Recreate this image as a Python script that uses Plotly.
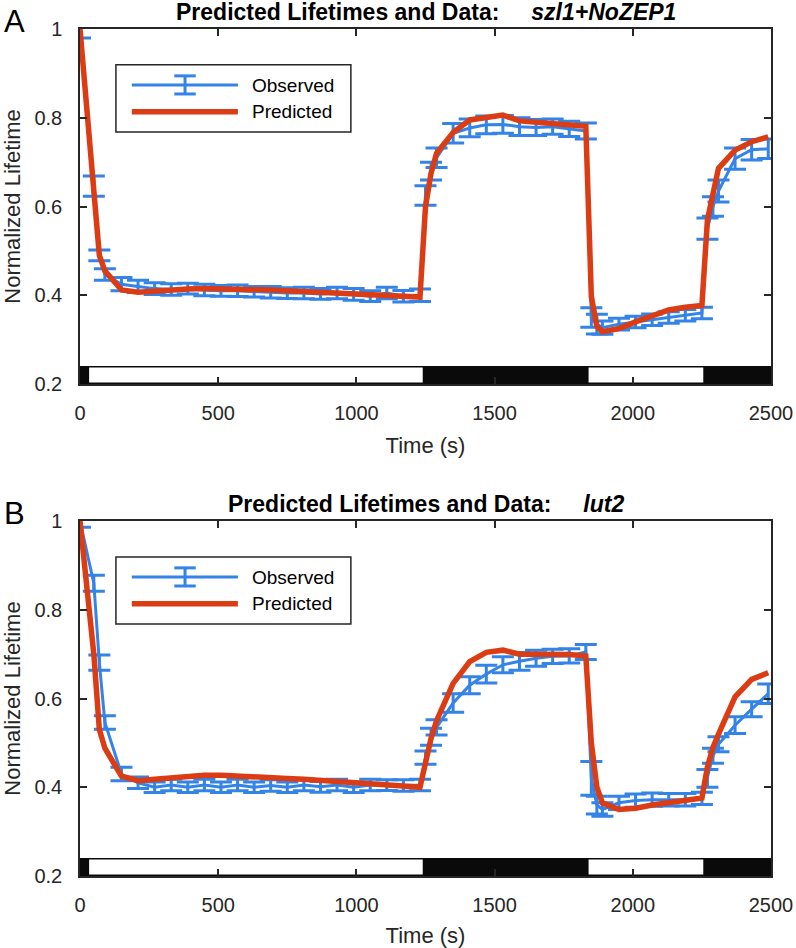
import plotly.graph_objects as go

# sample times (s), shared by observed and predicted series
times = [0, 50, 70, 90, 150, 210, 270, 330, 390, 450, 510, 570, 630, 690, 750,
         810, 870, 930, 990, 1050, 1110, 1170, 1230, 1250, 1270, 1290, 1350,
         1410, 1470, 1530, 1590, 1650, 1710, 1770, 1830, 1850, 1870, 1890,
         1950, 2010, 2070, 2130, 2190, 2250, 2270, 2290, 2310, 2370, 2430, 2490]

# panel A: szl1+NoZEP1
obs_a = [1.00, 0.646, 0.49, 0.447, 0.425, 0.42, 0.415, 0.413, 0.415, 0.412, 0.41,
         0.41, 0.408, 0.407, 0.405, 0.405, 0.403, 0.405, 0.402, 0.398, 0.405, 0.398,
         0.40, 0.625, 0.68, 0.71, 0.765, 0.777, 0.784, 0.785, 0.78, 0.778, 0.78,
         0.775, 0.77, 0.35, 0.335, 0.327, 0.335, 0.34, 0.345, 0.35, 0.355, 0.36,
         0.55, 0.60, 0.635, 0.708, 0.728, 0.73]
err_a = [0.02, 0.023, 0.012, 0.013, 0.015, 0.014, 0.013, 0.013, 0.012, 0.013, 0.012,
         0.013, 0.012, 0.013, 0.012, 0.013, 0.012, 0.013, 0.013, 0.012, 0.013, 0.013,
         0.014, 0.022, 0.02, 0.022, 0.022, 0.02, 0.02, 0.02, 0.02, 0.018, 0.017,
         0.017, 0.018, 0.022, 0.022, 0.015, 0.013, 0.013, 0.013, 0.013, 0.013, 0.013,
         0.024, 0.022, 0.025, 0.024, 0.023, 0.022]
pred_a = [1.0, 0.62, 0.49, 0.455, 0.412, 0.407, 0.41, 0.413, 0.414, 0.415, 0.415,
          0.414, 0.413, 0.412, 0.41, 0.408, 0.406, 0.404, 0.402, 0.40, 0.399, 0.398,
          0.396, 0.60, 0.675, 0.72, 0.767, 0.795, 0.802, 0.806, 0.793, 0.79, 0.788,
          0.786, 0.781, 0.397, 0.33, 0.318, 0.325, 0.34, 0.355, 0.367, 0.373, 0.377,
          0.57, 0.63, 0.686, 0.727, 0.746, 0.757]

# panel B: lut2
obs_b = [1.00, 0.86, 0.681, 0.546, 0.43, 0.41, 0.40, 0.405, 0.40, 0.405, 0.40,
         0.405, 0.40, 0.404, 0.40, 0.405, 0.401, 0.405, 0.40, 0.405, 0.405, 0.404,
         0.405, 0.467, 0.514, 0.535, 0.59, 0.63, 0.655, 0.676, 0.684, 0.691, 0.695,
         0.696, 0.705, 0.42, 0.36, 0.35, 0.365, 0.37, 0.372, 0.372, 0.372, 0.375,
         0.42, 0.471, 0.497, 0.54, 0.576, 0.611]
err_b = [0.014, 0.018, 0.017, 0.015, 0.015, 0.013, 0.012, 0.013, 0.012, 0.013, 0.012,
         0.013, 0.012, 0.013, 0.012, 0.013, 0.012, 0.013, 0.012, 0.013, 0.012, 0.013,
         0.013, 0.015, 0.019, 0.017, 0.021, 0.019, 0.02, 0.018, 0.02, 0.018, 0.016,
         0.016, 0.017, 0.038, 0.02, 0.015, 0.015, 0.015, 0.015, 0.014, 0.014, 0.014,
         0.02, 0.017, 0.017, 0.019, 0.017, 0.022]
pred_b = [1.0, 0.70, 0.53, 0.488, 0.425, 0.415, 0.418, 0.422, 0.425, 0.427, 0.427,
          0.426, 0.424, 0.422, 0.42, 0.418, 0.416, 0.414, 0.412, 0.41, 0.406, 0.403,
          0.40, 0.454, 0.51, 0.55, 0.634, 0.683, 0.704, 0.709, 0.70, 0.70, 0.70,
          0.699, 0.696, 0.50, 0.40, 0.365, 0.35, 0.353, 0.36, 0.366, 0.372, 0.376,
          0.446, 0.49, 0.52, 0.604, 0.643, 0.658]

# light periods (white boxes); the rest of the bar is dark
light_periods = [(33, 1240), (1840, 2255)]

x_ticks = [0, 500, 1000, 1500, 2000, 2500]
y_ticks = [0.2, 0.4, 0.6, 0.8, 1.0]
y_ticktext = ['0.2', '0.4', '0.6', '0.8', '1']

BLUE = '#3384E6'
RED = '#DC3C14'
AXC = '#262626'
FONT = 'Liberation Sans, Arial, sans-serif'

fig = go.Figure()


def add_panel(fig, n, letter, strain, obs, err, pred, dom):
    xa = 'x' if n == 1 else 'x%d' % n
    ya = 'y' if n == 1 else 'y%d' % n
    fig.add_trace(go.Scatter(
        x=times, y=obs, xaxis=xa, yaxis=ya, mode='lines', showlegend=False,
        line=dict(color=BLUE, width=3),
        error_y=dict(type='data', array=err, color=BLUE, thickness=3, width=11)))
    fig.add_trace(go.Scatter(
        x=times, y=pred, xaxis=xa, yaxis=ya, mode='lines', showlegend=False,
        line=dict(color=RED, width=5.5)))

    axis_common = dict(showline=True, linecolor=AXC, linewidth=1.5, mirror='ticks',
                       ticks='inside', ticklen=7, tickwidth=1.5, tickcolor=AXC,
                       showgrid=False, zeroline=False, automargin=False,
                       tickfont=dict(family=FONT, size=20, color=AXC))
    fig.layout['xaxis' + ('' if n == 1 else str(n))] = dict(
        axis_common, range=[0, 2500], tickvals=x_ticks, anchor=ya, domain=[0, 1],
        ticklabelstandoff=10,
        title=dict(text='Time (s)', font=dict(family=FONT, size=22, color=AXC), standoff=15))
    fig.layout['yaxis' + ('' if n == 1 else str(n))] = dict(
        axis_common, range=[0.2, 1.0], tickvals=y_ticks, ticktext=y_ticktext,
        anchor=xa, domain=dom, ticklabelstandoff=12,
        title=dict(text='Normalized Lifetime', font=dict(family=FONT, size=22, color=AXC),
                   standoff=8))

    # light / dark bar along the bottom
    fig.add_shape(type='rect', xref=xa, yref=ya, x0=0, x1=2500, y0=0.2, y1=0.2405,
                  fillcolor='#0a0a0a', line=dict(width=0), layer='below')
    for a, b in light_periods:
        fig.add_shape(type='rect', xref=xa, yref=ya, x0=a, x1=b, y0=0.2035, y1=0.2375,
                      fillcolor='white', line=dict(width=0), layer='below')

    xd = xa + ' domain'
    yd = ya + ' domain'
    # legend box drawn by hand, matching the MATLAB style
    fig.add_shape(type='rect', xref=xd, yref=yd, x0=0.052, x1=0.392, y0=0.71, y1=0.899,
                  line=dict(color=AXC, width=1.5), fillcolor='white')
    fig.add_shape(type='line', xref=xd, yref=yd, x0=0.075, x1=0.2285, y0=0.842, y1=0.842,
                  line=dict(color=BLUE, width=3))
    fig.add_shape(type='line', xref=xd, yref=yd, x0=0.152, x1=0.152, y0=0.817, y1=0.868,
                  line=dict(color=BLUE, width=3))
    for yy in (0.817, 0.868):
        fig.add_shape(type='line', xref=xd, yref=yd, x0=0.1365, x1=0.1675, y0=yy, y1=yy,
                      line=dict(color=BLUE, width=3))
    fig.add_shape(type='line', xref=xd, yref=yd, x0=0.075, x1=0.2285, y0=0.767, y1=0.767,
                  line=dict(color=RED, width=5.5))
    for txt, yy in (('Observed', 0.842), ('Predicted', 0.767)):
        fig.add_annotation(xref=xd, yref=yd, x=0.246, y=yy, text=txt, showarrow=False,
                           xanchor='left', yanchor='middle',
                           font=dict(family=FONT, size=19, color='black'))

    gap = '\u00a0' * 5
    fig.add_annotation(xref=xd, yref=yd, x=0.5, y=1, yanchor='bottom', yshift=2,
                       showarrow=False,
                       text='<b>Predicted Lifetimes and Data:' + gap + '<i>' + strain + '</i></b>',
                       font=dict(family=FONT, size=23, color='black'))
    fig.add_annotation(xref='paper', yref=yd, x=-0.095, y=1.02, xanchor='center',
                       yanchor='middle', showarrow=False, text=letter,
                       font=dict(family=FONT, size=31, color='black'))


add_panel(fig, 1, 'A', 'szl1+NoZEP1', obs_a, err_a, pred_a, [0.5949, 0.9694])
add_panel(fig, 2, 'B', 'lut2', obs_b, err_b, pred_b, [0.0759, 0.4504])

fig.update_layout(width=796, height=948, margin=dict(l=80, r=25, t=0, b=0),
                  paper_bgcolor='white', plot_bgcolor='white',
                  font=dict(family=FONT, color=AXC))

# drop the default page margin so the 796x948 figure fills the window exactly
fig.write_html("out.html", config={'displayModeBar': False},
               post_script="document.body.style.margin='0';document.body.style.overflow='hidden';")
